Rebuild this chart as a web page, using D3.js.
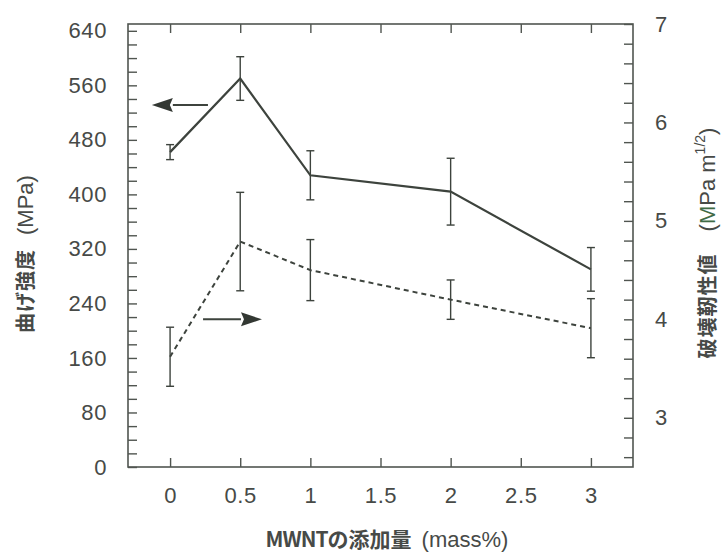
<!DOCTYPE html>
<html>
<head>
<meta charset="utf-8">
<script src="https://cdn.jsdelivr.net/npm/d3@7/dist/d3.min.js"></script>
<style>
  html, body { margin: 0; padding: 0; background: #fff; }
  svg { display: block; }
  text { fill: #474a47; }
</style>
</head>
<body>
<svg id="chart" width="727" height="552"></svg>
<script>
// MWNT content (mass%)
const additions = [0, 0.5, 1, 2, 3];
// Flexural strength (MPa), left axis
const strength = [462, 570, 428, 404, 290];
const strengthErr = [11, 32, 36, 49, 32];
// Fracture toughness (MPa m^1/2), right axis
const toughness = [3.62, 4.79, 4.50, 4.20, 3.91];
const toughnessErr = [0.30, 0.50, 0.31, 0.20, 0.30];

const xTicks = [0, 0.5, 1, 1.5, 2, 2.5, 3];
const leftLabels = [0, 80, 160, 240, 320, 400, 480, 560, 640];
const rightLabels = [3, 4, 5, 6, 7];

// Arrow annotations in data units: which axis each curve belongs to
const arrowLeft = { y: 531, x0: 0.27, x1: -0.13 };
const arrowRight = { y: 4.0, x0: 0.235, x1: 0.655 };

const svg = d3.select("#chart");
const frame = { left: 128, right: 633, top: 24, bottom: 467 };
const ink = "#3d433d";
const textFont = "'Liberation Sans', Arial, sans-serif";
const jpFont = "'Noto Sans CJK JP', 'Noto Sans CJK SC', sans-serif";

const x = d3.scaleLinear().domain([-0.3, 3.3]).range([frame.left, frame.right]);
const yL = d3.scaleLinear().domain([0, 650]).range([frame.bottom, frame.top]);
const yR = d3.scaleLinear().domain([2.5, 7]).range([frame.bottom, frame.top]);

const fmt = d => String(d);

// Left axis: minor ticks every 20, labels every 80
const leftAxis = d3.axisLeft(yL)
  .tickValues(d3.range(0, 641, 20))
  .tickSize(-9).tickPadding(21)
  .tickFormat(d => leftLabels.includes(d) ? fmt(d) : "");
svg.append("g").attr("transform", `translate(${frame.left},0)`).call(leftAxis);

// Right axis: minor ticks every 0.2, labels at integers
const rightAxis = d3.axisRight(yR)
  .tickValues(d3.range(13, 36).map(v => +(v * 0.2).toFixed(1)))
  .tickSize(-9).tickPadding(22)
  .tickFormat(d => rightLabels.includes(d) ? fmt(d) : "");
svg.append("g").attr("transform", `translate(${frame.right},0)`).call(rightAxis);

// Bottom and top axes
const bottomAxis = d3.axisBottom(x).tickValues(xTicks).tickSize(-9).tickPadding(20).tickFormat(fmt);
svg.append("g").attr("transform", `translate(0,${frame.bottom})`).call(bottomAxis);
const topAxis = d3.axisTop(x).tickValues(xTicks).tickSize(-9).tickFormat("");
svg.append("g").attr("transform", `translate(0,${frame.top})`).call(topAxis);

svg.selectAll(".domain").remove();
svg.selectAll(".tick line").attr("stroke", "#505550").attr("stroke-width", 1.4);
svg.selectAll(".tick text")
  .attr("font-family", textFont).attr("font-size", 22).attr("letter-spacing", 0.6)
  .attr("fill", "#474a47");

// Plot frame
svg.append("rect")
  .attr("x", frame.left).attr("y", frame.top)
  .attr("width", frame.right - frame.left).attr("height", frame.bottom - frame.top)
  .attr("fill", "none").attr("stroke", "#505550").attr("stroke-width", 1.6);

// Error bars
function errorBars(values, errs, y) {
  const g = svg.append("g").attr("stroke", ink).attr("stroke-width", 1.4);
  additions.forEach((a, i) => {
    const cx = x(a), t = y(values[i] + errs[i]), b = y(values[i] - errs[i]);
    g.append("line").attr("x1", cx).attr("x2", cx).attr("y1", t).attr("y2", b);
    g.append("line").attr("x1", cx - 4).attr("x2", cx + 4).attr("y1", t).attr("y2", t);
    g.append("line").attr("x1", cx - 4).attr("x2", cx + 4).attr("y1", b).attr("y2", b);
  });
}
errorBars(strength, strengthErr, yL);
errorBars(toughness, toughnessErr, yR);

// Curves
const lineL = d3.line().x((d, i) => x(additions[i])).y(d => yL(d));
const lineR = d3.line().x((d, i) => x(additions[i])).y(d => yR(d));
svg.append("path").datum(strength).attr("d", lineL)
  .attr("fill", "none").attr("stroke", ink).attr("stroke-width", 2.2);
svg.append("path").datum(toughness).attr("d", lineR)
  .attr("fill", "none").attr("stroke", ink).attr("stroke-width", 2)
  .attr("stroke-dasharray", "5,4");

// Arrows pointing to the axis of each curve
function arrow(x0, x1, yPix) {
  const dir = Math.sign(x1 - x0);
  const headLen = 21, headHalf = 7;
  const tipX = x1, baseX = x1 - dir * headLen;
  svg.append("line").attr("x1", x0).attr("x2", baseX).attr("y1", yPix).attr("y2", yPix)
    .attr("stroke", ink).attr("stroke-width", 2);
  svg.append("path")
    .attr("d", `M${tipX},${yPix} L${baseX},${yPix - headHalf} L${baseX + dir * 3},${yPix} L${baseX},${yPix + headHalf} Z`)
    .attr("fill", "#333833");
}
arrow(x(arrowLeft.x0), x(arrowLeft.x1), yL(arrowLeft.y));
arrow(x(arrowRight.x0), x(arrowRight.x1), yR(arrowRight.y));

// X axis title
const xt = svg.append("text")
  .attr("x", 387).attr("y", 547).attr("text-anchor", "middle")
  .attr("font-size", 21);
xt.append("tspan").attr("font-family", jpFont).attr("font-weight", "bold").attr("letter-spacing", -1).text("MWNT");
xt.append("tspan").attr("font-family", jpFont).attr("font-weight", "bold").text("の添加量");
xt.append("tspan").attr("font-family", textFont).attr("font-size", 22).attr("dx", 10).text("(mass%)");

// Left axis title
const lt = svg.append("text")
  .attr("transform", "translate(33,254) rotate(-90)")
  .attr("text-anchor", "middle").attr("font-size", 20);
lt.append("tspan").attr("font-family", jpFont).attr("font-weight", "bold").attr("letter-spacing", 1).text("曲げ強度");
lt.append("tspan").attr("font-family", textFont).attr("font-size", 22).attr("dx", 14).text("(MPa)");

// Right axis title
const rt = svg.append("text")
  .attr("transform", "translate(715,243) rotate(-90)")
  .attr("text-anchor", "middle").attr("font-size", 20);
rt.append("tspan").attr("font-family", jpFont).attr("font-weight", "bold").attr("letter-spacing", 1).text("破壊靭性値");
rt.append("tspan").attr("font-family", textFont).attr("font-size", 22).attr("dx", 22).text("(");
rt.append("tspan").attr("font-family", textFont).attr("font-size", 22).attr("fill", "#3f6b45").text("M");
rt.append("tspan").attr("font-family", textFont).attr("font-size", 22).text("Pa m");
rt.append("tspan").attr("font-family", textFont).attr("font-size", 14).attr("dy", -10).text("1/2");
rt.append("tspan").attr("font-family", textFont).attr("font-size", 22).attr("dy", 10).text(")");
</script>
</body>
</html>
